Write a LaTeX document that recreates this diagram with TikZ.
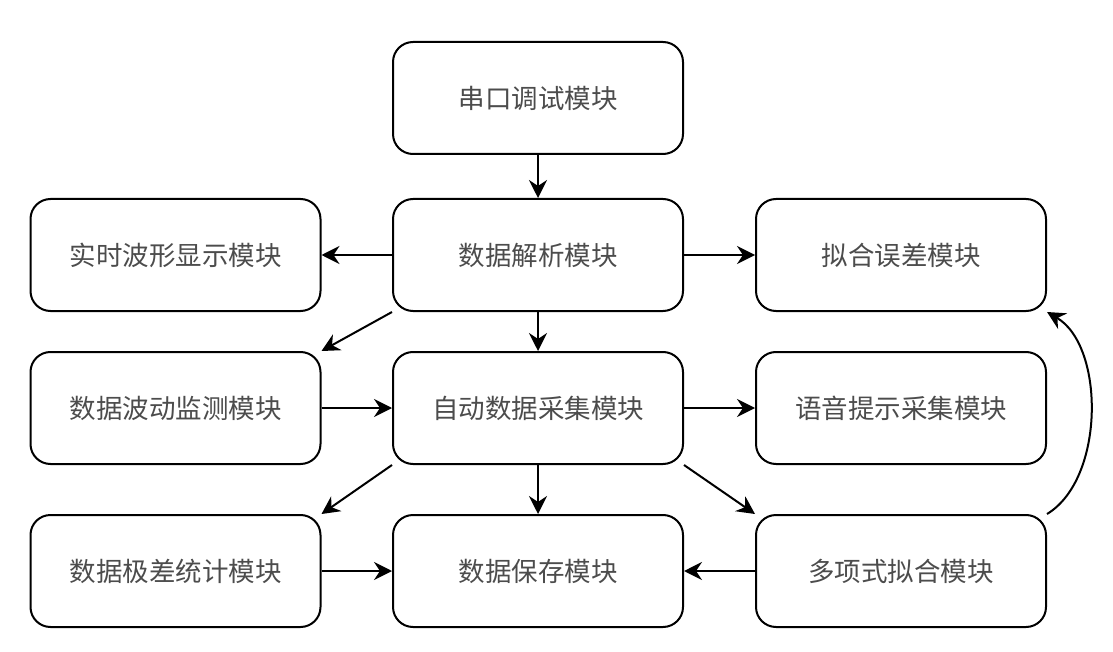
\documentclass[tikz,border=0pt]{standalone}
\usepackage{fontspec}
\newfontfamily\cjk{Noto Sans CJK SC}
\usetikzlibrary{arrows.meta}
\begin{document}
\begin{tikzpicture}[x=1pt,y=-1pt,
  box/.style={draw=black,line width=2pt,rounded corners=20pt,minimum width=290pt,minimum height=112pt,inner sep=0pt,
    font=\cjk\fontsize{26.5}{30}\selectfont,text=black!70},
  arr/.style={line width=2pt,-{Stealth[length=18pt,width=18pt,inset=6pt]}}]
\useasboundingbox (0,0) rectangle (1113,652);
\node[box] (ck) at (538,98) {串口调试模块};
\node[box] (ss) at (175.5,255) {实时波形显示模块};
\node[box] (jx) at (538,255) {数据解析模块};
\node[box] (nh) at (901,255) {拟合误差模块};
\node[box] (bd) at (175.5,408) {数据波动监测模块};
\node[box] (zd) at (538,408) {自动数据采集模块};
\node[box] (yy) at (901,408) {语音提示采集模块};
\node[box] (jc) at (175.5,571) {数据极差统计模块};
\node[box] (bc) at (538,571) {数据保存模块};
\node[box] (dx) at (901,571) {多项式拟合模块};
\draw[arr] (ck) -- (jx);
\draw[arr] (jx) -- (ss);
\draw[arr] (jx) -- (nh);
\draw[arr] (jx) -- (zd);
\draw[arr] (jx.south west) -- (bd.north east);
\draw[arr] (bd) -- (zd);
\draw[arr] (zd) -- (yy);
\draw[arr] (zd.south west) -- (jc.north east);
\draw[arr] (zd) -- (bc);
\draw[arr] (zd.south east) -- (dx.north west);
\draw[arr] (jc) -- (bc);
\draw[arr] (dx) -- (bc);
\draw[arr] (dx.north east) .. controls +(58,-35) and +(58,34) .. (nh.south east);
\end{tikzpicture}
\end{document}
